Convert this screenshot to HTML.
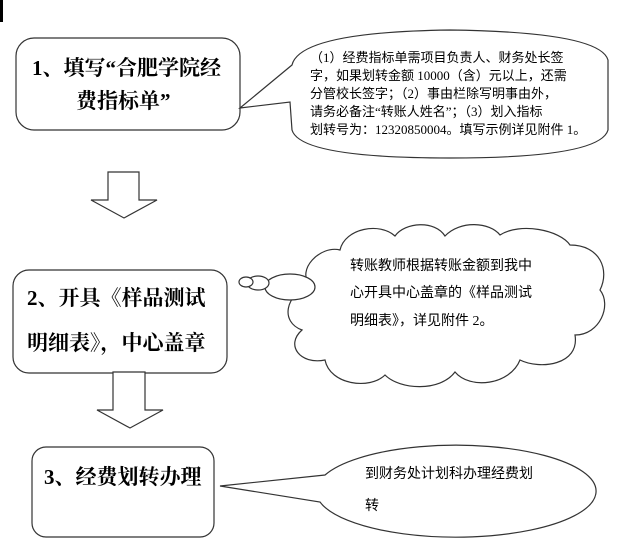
<!DOCTYPE html>
<html><head><meta charset="utf-8"><style>
body{margin:0;background:#fff;}
svg{display:block}
.b{font-family:"Liberation Serif","Noto Serif CJK SC",serif;font-weight:bold;font-size:21px;fill:#000}
.s{font-family:"Liberation Serif","Noto Sans CJK SC",sans-serif;font-size:13px;fill:#000}
.c{font-family:"Liberation Serif","Noto Sans CJK SC",sans-serif;font-size:14px;fill:#000}
</style></head><body>
<svg width="638" height="550" viewBox="0 0 638 550" xmlns="http://www.w3.org/2000/svg">
<rect x="0" y="0" width="3" height="22" fill="#000"/>
<g fill="#fff" stroke="#333" stroke-width="1.2">
<rect x="16" y="38" width="224" height="92" rx="18"/>
<path d="M240,108 L292,65 Q300,32 450,30 Q600,32 608,60 L608,130 Q600,158 450,158 Q300,158 292,130 L290,102 Z"/>
<path d="M108,172 H139 V200 H157 L124,218 L91,200 H108 Z"/>
<rect x="13" y="270" width="214" height="103" rx="16"/>
<path d="M310,285 C296,270 320,245 340,250 C345,228 380,222 395,236 C405,222 435,220 445,236 C460,220 490,222 500,235 C520,222 560,230 570,245 C600,245 610,270 600,290 C612,305 600,335 575,335 C580,365 540,370 520,360 C510,385 470,390 455,372 C440,392 400,390 385,375 C370,390 330,385 325,360 C300,365 285,345 302,330 C280,322 285,295 310,285 Z"/>
<ellipse cx="290" cy="287" rx="25" ry="13"/>
<ellipse cx="258" cy="283" rx="11" ry="7"/>
<ellipse cx="246" cy="282" rx="7" ry="5"/>
<path d="M113,372 H145 V410 H163 L130,428 L97,410 H113 Z"/>
<rect x="32" y="447" width="182" height="90" rx="14"/>
<path d="M220,486 L325,475 A140 46 0 1 1 320,502 Z"/>
</g>
<text class="b" x="32" y="75">1、填写“合肥学院经</text>
<text class="b" x="76" y="108">费指标单”</text>
<g class="s">
<text x="310" y="62">（1）经费指标单需项目负责人、财务处长签</text>
<text x="310" y="80">字，如果划转金额 10000（含）元以上，还需</text>
<text x="310" y="98">分管校长签字；（2）事由栏除写明事由外，</text>
<text x="310" y="116">请务必备注“转账人姓名”；（3）划入指标</text>
<text x="310" y="134">划转号为：12320850004。填写示例详见附件 1。</text>
</g>
<text class="b" x="27" y="305">2、开具《样品测试</text>
<text class="b" x="27" y="350">明细表》，中心盖章</text>
<g class="c">
<text x="350" y="270">转账教师根据转账金额到我中</text>
<text x="350" y="297">心开具中心盖章的《样品测试</text>
<text x="350" y="325">明细表》，详见附件 2。</text>
</g>
<text class="b" x="44" y="484">3、经费划转办理</text>
<g class="c">
<text x="365" y="478">到财务处计划科办理经费划</text>
<text x="365" y="510">转</text>
</g>
</svg>
</body></html>
